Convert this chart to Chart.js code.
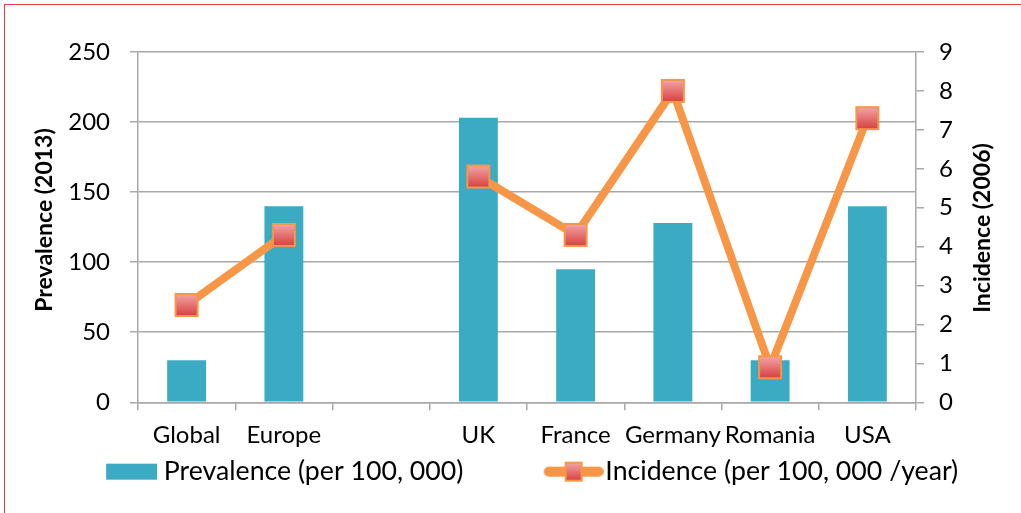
<!DOCTYPE html>
<html>
<head>
<meta charset="utf-8">
<script src="https://cdn.jsdelivr.net/npm/chart.js@4.4.1/dist/chart.umd.min.js"></script>
<style>
  html, body { margin: 0; padding: 0; background: #fff; }
  #wrap { position: relative; width: 1021px; height: 513px; }
  #frame { position: absolute; left: 4px; top: 4px; width: 1030px; height: 520px;
           border-top: 1.5px solid #e8404a; border-left: 1.5px solid #e8404a; }
  canvas { position: absolute; left: 0; top: 0; }
</style>
</head>
<body>
<div id="wrap">
  <div id="frame"></div>
  <canvas id="chart" width="1021" height="513"></canvas>
</div>
<script>
// data
var categories = ["Global", "Europe", "", "UK", "France", "Germany", "Romania", "USA"];
var prevalence = [30, 140, null, 203, 95, 128, 30, 140];
var incidence  = [2.5, 4.3, null, 5.8, 4.3, 8.0, 0.9, 7.3];
var prevTicks  = [0, 250, 50];   // min, max, step
var incTicks   = [0, 9, 1];

var barColor  = "#3babc4";
var lineColor = "#f79646";
var gridColor = "#a8a8a8";

Chart.defaults.font.family = "Lato";
Chart.defaults.color = "#000";

// square marker with the pink-to-red gradient
function makeMarker(w, h) {
  var c = document.createElement("canvas");
  c.width = w + 4; c.height = h + 4;
  var g = c.getContext("2d");
  var grad = g.createLinearGradient(0, 2, 0, h + 2);
  grad.addColorStop(0, "#f4a5a7");
  grad.addColorStop(1, "#d7403f");
  g.fillStyle = grad;
  g.fillRect(2, 2, w, h);
  g.strokeStyle = lineColor;
  g.lineWidth = 2;
  g.strokeRect(2, 2, w, h);
  return c;
}
var marker = makeMarker(22, 22);

// legend symbols: drawn in the right part of a wider canvas so the spacing matches
function barSymbol() {
  var c = document.createElement("canvas");
  c.width = 132; c.height = 18;
  var g = c.getContext("2d");
  g.fillStyle = barColor;
  g.fillRect(81, 1, 51, 16);
  return c;
}
function lineSymbol() {
  var c = document.createElement("canvas");
  c.width = 142; c.height = 24;
  var g = c.getContext("2d");
  g.strokeStyle = lineColor;
  g.lineWidth = 10;
  g.lineCap = "round";
  g.beginPath();
  g.moveTo(87, 12); g.lineTo(137, 12);
  g.stroke();
  var m = makeMarker(16, 18);
  g.drawImage(m, 102, 1);
  return c;
}

function vText(ctx, text, x, y) {
  ctx.save();
  ctx.font = "bold 23px Lato";
  ctx.fillStyle = "#000";
  ctx.textAlign = "center";
  ctx.textBaseline = "middle";
  ctx.translate(x, y);
  ctx.rotate(-Math.PI / 2);
  ctx.fillText(text, 0, 0);
  ctx.restore();
}

var sideTitles = {
  id: "sideTitles",
  afterDraw: function(chart) {
    vText(chart.ctx, "Prevalence (2013)", 45, 220);
    vText(chart.ctx, "Incidence (2006)", 983, 228);
  }
};

new Chart(document.getElementById("chart"), {
  type: "bar",
  data: {
    labels: categories,
    datasets: [
      {
        type: "bar",
        label: "Prevalence (per 100, 000)",
        data: prevalence,
        backgroundColor: barColor,
        yAxisID: "y",
        barPercentage: 0.4,
        categoryPercentage: 1,
        order: 1
      },
      {
        type: "line",
        label: "Incidence (per 100, 000 /year)",
        data: incidence,
        borderColor: lineColor,
        borderWidth: 8,
        pointStyle: marker,
        pointRadius: 12,
        pointHoverRadius: 12,
        spanGaps: false,
        tension: 0,
        yAxisID: "y1",
        order: 0
      }
    ]
  },
  options: {
    responsive: false,
    animation: false,
    layout: { padding: { top: 52, left: 0, right: 31, bottom: 18 } },
    plugins: {
      tooltip: { enabled: false },
      legend: {
        position: "bottom",
        labels: {
          font: { size: 26.7 },
          color: "#000",
          usePointStyle: true,
          pointStyleWidth: 118.65,
          boxHeight: 23,
          padding: 10,
          generateLabels: function() {
            return [
              { text: "Prevalence (per 100, 000)", pointStyle: barSymbol(), datasetIndex: 0,
                fillStyle: barColor, strokeStyle: barColor, lineWidth: 0, hidden: false },
              { text: "Incidence (per 100, 000 /year)", pointStyle: lineSymbol(), datasetIndex: 1,
                fillStyle: lineColor, strokeStyle: lineColor, lineWidth: 0, hidden: false }
            ];
          }
        }
      }
    },
    scales: {
      x: {
        afterFit: function(s) { s.height = 46; },
        grid: { offset: true, drawOnChartArea: false, tickLength: 8, color: gridColor, lineWidth: 1.5 },
        border: { color: gridColor, width: 1.5 },
        ticks: { autoSkip: false, maxRotation: 0, padding: 11, font: { size: 24 }, color: "#000" }
      },
      y: {
        position: "left",
        min: prevTicks[0], max: prevTicks[1],
        afterFit: function(s) { s.width = 138; },
        grid: { color: gridColor, lineWidth: 1.5, tickLength: 8 },
        border: { color: gridColor, width: 1.5 },
        ticks: { stepSize: prevTicks[2], padding: 20, font: { size: 24 }, color: "#000" }
      },
      y1: {
        position: "right",
        min: incTicks[0], max: incTicks[1],
        afterFit: function(s) { s.width = 74; },
        grid: { drawOnChartArea: false, color: gridColor, lineWidth: 1.5, tickLength: 8 },
        border: { color: gridColor, width: 1.5 },
        ticks: { stepSize: incTicks[2], padding: 15, font: { size: 24 }, color: "#000" }
      }
    }
  },
  plugins: [sideTitles]
});
</script>
</body>
</html>
